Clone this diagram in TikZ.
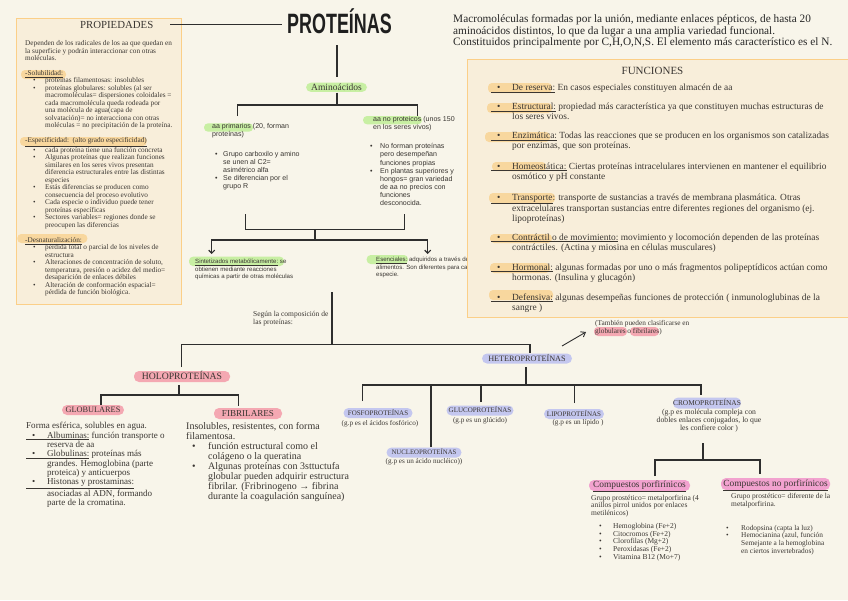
\documentclass[tikz,border=0pt]{standalone}
\usepackage{fontspec}
\setmainfont{Liberation Serif}
\setsansfont{Liberation Sans}
\newfontfamily\titlefont{Liberation Sans}
\usetikzlibrary{arrows.meta}
\definecolor{bgc}{HTML}{F8F5EA}
\definecolor{boxfill}{HTML}{F8EEDA}
\definecolor{boxline}{HTML}{FBCF88}
\definecolor{hlor}{HTML}{F8D79E}
\definecolor{hlgr}{HTML}{C8EFA3}
\definecolor{pinka}{HTML}{F4A8B2}
\definecolor{pinkb}{HTML}{F2A2CF}
\definecolor{lav}{HTML}{C4C7EF}
\definecolor{ink}{HTML}{2E2E2E}
\definecolor{txt}{HTML}{3A3632}
\newcommand\fsz[2]{\fontsize{#1}{#2}\selectfont}
\newcommand\bi[2]{\hspace*{#1}\makebox[#2][l]{\textbullet}}
\newcommand\ci[1]{\hspace*{#1}}
\begin{document}
\begin{tikzpicture}[x=1pt,y=-1pt,
  conn/.style={draw=ink,line width=1.3pt},
  arr/.style={draw=ink,line width=1.2pt,-{Straight Barb[length=3pt,width=6pt]}},
  body/.style={inner sep=0pt,anchor=north west,align=left,text=txt,execute at begin node=\strut},
  pill/.style={inner sep=0pt,rounded corners=5pt,text=txt,text depth=0pt},
  sub/.style={inner sep=0pt,text=txt},
  hl/.style={rounded corners=4pt}]
\useasboundingbox (0,0) rectangle (848,600);
\fill[bgc] (0,0) rectangle (848,600);

% ---------- PROPIEDADES box ----------
\draw[boxline,fill=boxfill,line width=1pt] (16,18) rectangle (181,304);
\fill[hlor,hl] (21,70) rectangle (66,79);
\fill[hlor,hl] (20,137) rectangle (146.7,146);
\fill[hlor,hl] (17.3,234) rectangle (87.3,243);
\node[inner sep=0,anchor=base,font=\fsz{10.8}{12},text=txt] (proph) at (116.7,28.6) {PROPIEDADES};
\node[body,font=\fsz{7.25}{7.5}] (proptext) at (25,40.4) {%
Dependen de los radicales de los aa que quedan en\\
la superficie y podrán interaccionar con otras\\
moléculas.\\[7.3pt]
\underline{-Solubilidad:}\\
\bi{8pt}{12pt}proteínas filamentosas: insolubles\\
\bi{8pt}{12pt}proteínas globulares: solubles (al ser\\
\ci{20pt}macromoléculas= dispersiones coloidales =\\
\ci{20pt}cada macromolécula queda rodeada por\\
\ci{20pt}una molécula de agua(capa de\\
\ci{20pt}solvatación)= no interacciona con otras\\
\ci{20pt}moléculas = no precipitación de la proteína.\\[7.3pt]
\underline{-Especificidad:\ \ (alto grado especificidad)}\\
\bi{8pt}{12pt}cada proteína tiene una función concreta\\
\bi{8pt}{12pt}Algunas proteínas que realizan funciones\\
\ci{20pt}similares en los seres vivos presentan\\
\ci{20pt}diferencia estructurales entre las distintas\\
\ci{20pt}especies\\
\bi{8pt}{12pt}Estás diferencias se producen como\\
\ci{20pt}consecuencia del proceso evolutivo\\
\bi{8pt}{12pt}Cada especie o individuo puede tener\\
\ci{20pt}proteínas específicas\\
\bi{8pt}{12pt}Sectores variables= regiones donde se\\
\ci{20pt}preocupen las diferencias\\[7.3pt]
\underline{-Desnaturalización:}\\
\bi{8pt}{12pt}pérdida total o parcial de los niveles de\\
\ci{20pt}estructura\\
\bi{8pt}{12pt}Alteraciones de concentración de soluto,\\
\ci{20pt}temperatura, presión o acidez del medio=\\
\ci{20pt}desaparición de enlaces débiles\\
\bi{8pt}{12pt}Alteración de conformación espacial=\\
\ci{20pt}pérdida de función biológica.};

% ---------- title ----------
\node[inner sep=0,anchor=base,font=\titlefont\bfseries\fsz{28}{30},text=black!88] (title) at (339.5,33) {\scalebox{0.64}[1]{PROTEÍNAS}};
\coordinate (lA) at (170,24.5); \coordinate (lB) at (282,24.5);
\draw[ink,line width=1.2pt] (lA) -- (lB);

\node[body,font=\fsz{11.3}{11.6},text=black!85] (intro) at (453,14.5) {Macromoléculas formadas por la unión, mediante enlaces pépticos, de hasta 20\\aminoácidos distintos, lo que da lugar a una amplia variedad funcional.\\Constituidos principalmente por C,H,O,N,S. El elemento más característico es el N.};

% ---------- aminoacidos ----------
\node[pill,fill=hlgr,minimum width=61pt,minimum height=9.3pt,font=\fsz{9.5}{10},text height=6.3pt] (amino) at (336.5,87.3) {Aminoácidos};
\coordinate (tA) at (337,45); \coordinate (tB) at (337,77);
\draw[conn] (tA) -- (tB);
\coordinate (aS) at (337,92.5); \coordinate (aJ) at (337,105);
\coordinate (aL) at (237.3,116); \coordinate (aR) at (417.3,116);
\draw[conn] (aS) -- (aJ) (aL) |- (aJ) -| (aR);

\fill[hlgr,hl] (204,123.3) rectangle (253,131.7);
\fill[hlgr,hl] (363,116) rectangle (422,124.3);
\node[body,font=\sffamily\fsz{7.05}{8.1}] (aap) at (212,123.45) {aa primarios (20, forman\\proteínas)};
\node[body,font=\sffamily\fsz{7.05}{8.1}] (aapl) at (215,151.15) {\bi{0pt}{8pt}Grupo carboxilo y amino\\\ci{8pt}se unen al C2=\\\ci{8pt}asimétrico alfa\\\bi{0pt}{8pt}Se diferencian por el\\\ci{8pt}grupo R};
\node[body,font=\sffamily\fsz{7.05}{8.1}] (aan) at (373,116.15) {aa no proteicos (unos 150\\en los seres vivos)};
\node[body,font=\sffamily\fsz{7.05}{8.1}] (aanl) at (370,143.45) {\bi{0pt}{10pt}No forman proteínas\\\ci{10pt}pero desempeñan\\\ci{10pt}funciones propias\\\bi{0pt}{10pt}En plantas superiores y\\\ci{10pt}hongos= gran variedad\\\ci{10pt}de aa no precios con\\\ci{10pt}funciones\\\ci{10pt}desconocida.};

\coordinate (bL) at (245.7,214); \coordinate (bR) at (404.3,214);
\coordinate (bJ) at (315,229.3); \coordinate (bD) at (315,240);
\coordinate (sA) at (211.7,254); \coordinate (eA) at (427.7,254);
\draw[conn] (bL) |- (bJ) -| (bR);
\draw[conn] (bJ) -- (bD);
\draw[arr] (bD) -| (sA);
\draw[arr] (bD) -| (eA);

\fill[hlgr,hl] (189,256.7) rectangle (284,266);
\fill[hlgr,hl] (366.7,255) rectangle (408,264);
\node[body,font=\sffamily\fsz{6.1}{7.3}] (sint) at (195,259.2) {\underline{Sintetizados metabólicamente:} se\\obtienen mediante reacciones\\químicas a partir de otras moléculas};
\node[body,font=\sffamily\fsz{6.1}{7.3}] (esen) at (376,257.2) {\underline{Esenciales:} adquiridos a través de\\alimentos. Son diferentes para cada\\especie.};

% ---------- FUNCIONES box ----------
\draw[boxline,fill=boxfill,line width=1pt] (467,59) rectangle (850,317);
\fill[hlor,hl] (488,83) rectangle (552,93);
\fill[hlor,hl] (487,103) rectangle (552,113);
\fill[hlor,hl] (485,132) rectangle (550,142);
\fill[hlor,hl] (492,162) rectangle (546,171);
\fill[hlor,hl] (489,193) rectangle (555,203);
\fill[hlor,hl] (490,234) rectangle (552,243);
\fill[hlor,hl] (490,263) rectangle (550,273);
\fill[hlor,hl] (489,290) rectangle (553,300);
\node[inner sep=0,anchor=base,font=\fsz{11}{12},text=txt] (funh) at (652.5,74.6) {FUNCIONES};
\node[body,font=\fsz{9.4}{10.3}] (f1) at (491,83.3) {\underline{\bi{6pt}{15pt}De reserva:} En casos especiales constituyen almacén de aa};
\node[body,font=\fsz{9.4}{10.3}] (f2) at (491,102.7) {\underline{\bi{6pt}{15pt}Estructural:} propiedad más característica ya que constituyen muchas estructuras de\\\ci{21pt}los seres vivos.};
\node[body,font=\fsz{9.4}{10.3}] (f3) at (491,131.7) {\underline{\bi{6pt}{15pt}Enzimática:} Todas las reacciones que se producen en los organismos son catalizadas\\\ci{21pt}por enzimas, que son proteínas.};
\node[body,font=\fsz{9.4}{10.3}] (f4) at (491,162.3) {\underline{\bi{6pt}{15pt}Homeostática:} Ciertas proteínas intracelulares intervienen en mantener el equilibrio\\\ci{21pt}osmótico y pH constante};
\node[body,font=\fsz{9.4}{10.3}] (f5) at (491,193.3) {\underline{\bi{6pt}{15pt}Transporte}: transporte de sustancias a través de membrana plasmática. Otras\\\ci{21pt}extracelulares transportan sustancias entre diferentes regiones del organismo (ej.\\\ci{21pt}lipoproteínas)};
\node[body,font=\fsz{9.4}{10.3}] (f6) at (491,233.3) {\underline{\bi{6pt}{15pt}Contráctil o de movimiento:} movimiento y locomoción dependen de las proteínas\\\ci{21pt}contráctiles. (Actina y miosina en células musculares)};
\node[body,font=\fsz{9.4}{10.3}] (f7) at (491,263.3) {\underline{\bi{6pt}{15pt}Hormonal:} algunas formadas por uno o más fragmentos polipeptídicos actúan como\\\ci{21pt}hormonas. (Insulina y glucagón)};
\node[body,font=\fsz{9.4}{10.3}] (f8) at (491,293.3) {\underline{\bi{6pt}{15pt}Defensiva:} algunas desempeñas funciones de protección ( inmunologlubinas de la\\\ci{21pt}sangre )};

% ---------- composition ----------
\node[body,font=\fsz{7.5}{8}] (segun) at (253,311.1) {Según la composición de\\las proteínas:};
\node[pill,fill=pinka,minimum width=96pt,minimum height=11pt,font=\fsz{9.7}{10},text height=6.4pt] (holo) at (182,376.5) {HOLOPROTEÍNAS};
\node[pill,fill=lav,minimum width=90pt,minimum height=10pt,font=\fsz{8.2}{9},text height=5.4pt] (hetero) at (527,358.5) {HETEROPROTEÍNAS};
\coordinate (cA) at (332,292); \coordinate (cJ) at (332,344.3);
\coordinate (hL) at (181.5,367); \coordinate (hR) at (530,353);
\draw[conn] (cA) -- (cJ);
\draw[conn] (hL) |- (cJ) -| (hR);

% holo branch
\node[pill,fill=pinka,minimum width=62pt,minimum height=10pt,font=\fsz{8.3}{9},text height=5.5pt] (glob) at (93,410) {GLOBULARES};
\node[pill,fill=pinka,minimum width=68pt,minimum height=11pt,font=\fsz{9.1}{10},text height=6pt] (fibr) at (248,413.5) {FIBRILARES};
\coordinate (hoS) at (179,385); \coordinate (hoJ) at (179,395);
\coordinate (gN) at (101,405); \coordinate (fN) at (238.3,406);
\draw[conn] (hoS) -- (hoJ) (gN) |- (hoJ) -| (fN);

\node[body,font=\fsz{9.05}{9.35}] (globt) at (26,422.2) {%
Forma esférica, solubles en agua.\\
\underline{\bi{6pt}{15pt}Albuminas:} función transporte o\\
\ci{21pt}reserva de aa\\
\underline{\bi{6pt}{15pt}Globulinas:} proteínas más\\
\ci{21pt}grandes. Hemoglobina (parte\\
\ci{21pt}proteica) y anticuerpos\\
\underline{\bi{6pt}{15pt}Histonas y prostaminas:}\\
\ci{21pt}asociadas al ADN, formando\\
\ci{21pt}parte de la cromatina.};
\node[body,font=\fsz{10}{10}] (fibrt) at (186,422) {%
Insolubles, resistentes, con forma\\
filamentosa.\\
\bi{6pt}{16pt}función estructural como el\\
\ci{22pt}colágeno o la queratina\\
\bi{6pt}{16pt}Algunas proteínas con 3sttuctufa\\
\ci{22pt}globular pueden adquirir estructura\\
\ci{22pt}fibrilar. (Fribrinogeno → fibrina\\
\ci{22pt}durante la coagulación sanguínea)};

% hetero branch
\coordinate (nA) at (562,346); \coordinate (nB) at (586,332);
\draw[ink,line width=0.9pt,-{Straight Barb[length=4pt,width=6pt]}] (nA) -- (nB);
\fill[pinka,hl] (594,327) rectangle (627,336);
\fill[pinka,hl] (630,327) rectangle (659,336);
\node[body,font=\fsz{7.3}{7.7}] (note) at (595,320.3) {(También pueden clasificarse en\\globulares o fibrilares)};

\node[pill,fill=lav,minimum width=69pt,minimum height=10pt,font=\fsz{7}{8},text height=4.6pt] (fosfo) at (378,413) {FOSFOPROTEÍNAS};
\node[pill,fill=lav,minimum width=67pt,minimum height=10pt,font=\fsz{7}{8},text height=4.6pt] (gluco) at (480,410.5) {GLUCOPROTEÍNAS};
\node[pill,fill=lav,minimum width=75pt,minimum height=10pt,font=\fsz{6.8}{8},text height=4.5pt] (nucleo) at (424,452.5) {NUCLEOPROTEÍNAS};
\node[pill,fill=lav,minimum width=60pt,minimum height=10pt,font=\fsz{7}{8},text height=4.6pt] (lipo) at (574,414) {LIPOPROTEÍNAS};
\node[pill,fill=lav,minimum width=67pt,minimum height=11pt,font=\fsz{7.4}{8},text height=4.9pt] (cromo) at (707,403) {CROMOPROTEÍNAS};
\node[sub,font=\fsz{7.2}{8}] (fosfos) at (380,423.3) {(g.p es el ácidos fosfórico)};
\node[sub,font=\fsz{7.2}{8}] (glucos) at (480,420.7) {(g.p es un glúcido)};
\node[sub,font=\fsz{7.2}{8}] (nucleos) at (424,461.7) {(g.p es un ácido nucléico))};
\node[sub,font=\fsz{7.2}{8}] (lipos) at (578,423) {(g.p es un lípido )};
\node[sub,font=\fsz{7.7}{8},align=center,anchor=north,execute at begin node=\strut] (cromos) at (709,408.5) {(g.p es molécula compleja con\\dobles enlaces conjugados, lo que\\les confiere color )};

\coordinate (heS) at (526,367); \coordinate (heJ) at (526,385);
\coordinate (k1) at (362.3,401); \coordinate (k2) at (431,447);
\coordinate (k3) at (481,402); \coordinate (k4) at (574.3,403);
\coordinate (k5) at (701,395);
\draw[conn] (heS) -- (heJ) (k1) |- (heJ) -| (k5);
\draw[conn] (k2) -- (k2 |- heJ) (k3) -- (k3 |- heJ) (k4) -- (k4 |- heJ);

% cromo branch
\coordinate (crS) at (703,443); \coordinate (crJ) at (703,460);
\coordinate (p1) at (655,476); \coordinate (p2) at (760,474);
\draw[conn] (crS) -- (crJ) (p1) |- (crJ) -| (p2);
\node[pill,fill=pinkb,minimum width=101pt,minimum height=11pt,font=\fsz{9.4}{10},text height=6.3pt,text depth=1.6pt] (cporf) at (639.5,485.5) {\underline{Compuestos porfirínicos}};
\node[pill,fill=pinkb,minimum width=109pt,minimum height=12pt,font=\fsz{9.4}{10},text height=6.3pt,text depth=1.6pt] (cnporf) at (775.5,484) {\underline{Compuestos no porfirínicos}};

\node[body,font=\fsz{7.5}{7.7}] (cpd) at (591,494.6) {Grupo prostético= metalporfirina (4\\anillos pirrol unidos por enlaces\\metilénicos)};
\node[body,font=\fsz{7.5}{7.7}] (cpl) at (599,523) {\bi{0pt}{14pt}Hemoglobina (Fe+2)\\\bi{0pt}{14pt}Citocromos (Fe+2)\\\bi{0pt}{14pt}Clorofilas (Mg+2)\\\bi{0pt}{14pt}Peroxidasas (Fe+2)\\\bi{0pt}{14pt}Vitamina B12 (Mo+7)};
\node[body,font=\fsz{7.45}{7.7}] (cnd) at (731,493) {Grupo prostético= diferente de la\\metalporfirina.};
\node[body,font=\fsz{7.35}{7.6}] (cnl) at (726,525) {\bi{0pt}{15pt}Rodopsina (capta la luz)\\\bi{0pt}{15pt}Hemocianina (azul, función\\\ci{15pt}Semejante a la hemoglobina\\\ci{15pt}en ciertos invertebrados)};
\end{tikzpicture}
\end{document}
